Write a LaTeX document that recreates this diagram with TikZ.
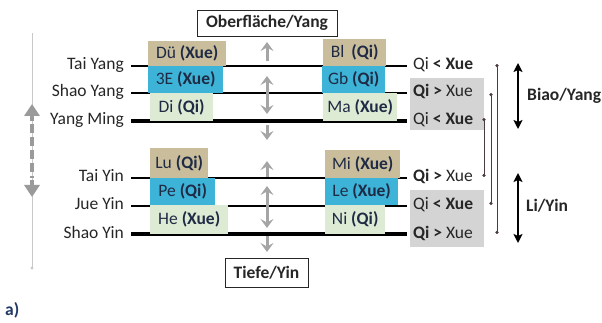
\documentclass[tikz,border=0pt]{standalone}
\usepackage{fontspec}
\setmainfont{Carlito}
\usetikzlibrary{arrows.meta}
\definecolor{tanc}{HTML}{C9BD9B}
\definecolor{cyanc}{HTML}{3DB3D8}
\definecolor{greenc}{HTML}{DDEBD4}
\definecolor{boxtxt}{HTML}{1F2B45}
\definecolor{txt}{HTML}{262626}
\definecolor{navy}{HTML}{1F3864}
\definecolor{greyfill}{HTML}{D4D4D4}
\definecolor{arrgrey}{HTML}{A5A5A5}
\definecolor{leftgrey}{HTML}{9A9A9A}
\definecolor{thingrey}{HTML}{C8C8C8}
\definecolor{brkc}{HTML}{4A3C3C}
\begin{document}
\begin{tikzpicture}[x=1pt,y=-1pt,font=\fontsize{17.5}{20}\selectfont,
  lbl/.style={anchor=east,inner sep=0pt,text=txt,text height=11pt,text depth=3pt},
  rl/.style={anchor=west,inner sep=0pt,text=txt,text height=11pt,text depth=3pt},
  bx/.style={anchor=north west,inner sep=0pt,text=boxtxt},
  titlebox/.style={draw=txt,line width=0.8pt,fill=white,inner sep=0pt,text=txt,font=\fontsize{17.5}{20}\selectfont\bfseries},
  thinline/.style={draw=black,line width=1.5pt},
  midline/.style={draw=black,line width=2.3pt},
  thickline/.style={draw=black,line width=3.6pt},
  garrow/.style={draw=arrgrey,line width=3pt,-{Stealth[length=9pt,width=13pt,inset=3.5pt]}},
  gdarrow/.style={draw=arrgrey,line width=3pt,{Stealth[length=9pt,width=13pt,inset=3.5pt]}-{Stealth[length=9pt,width=13pt,inset=3.5pt]}},
  brk/.style={draw=brkc,line width=0.9pt,{Circle[length=3.2pt]}-{Circle[length=3.2pt]}},
  bigarrow/.style={draw=black,line width=1.6pt,{Stealth[length=9pt,width=9pt,inset=2pt]}-{Stealth[length=9pt,width=9pt,inset=2pt]}}
]
\useasboundingbox (0,0) rectangle (602,323);

% left labels
\node[lbl] (ty)  at (124,66)  {Tai Yang};
\node[lbl] (sya) at (124,93)  {Shao Yang};
\node[lbl] (ym)  at (124,121) {Yang Ming};
\node[lbl] (tyi) at (124,178) {Tai Yin};
\node[lbl] (jy)  at (124,206) {Jue Yin};
\node[lbl] (syi) at (124,234) {Shao Yin};

% grey backgrounds
\fill[greyfill] (410,78) rectangle (484,130);
\fill[greyfill] (410,190) rectangle (484,247);

% right labels
\node[rl] (r1) at (413,66)  {Qi \textbf{< Xue}};
\node[rl] (r2) at (413,93)  {\textbf{Qi >} Xue};
\node[rl] (r3) at (413,121) {Qi \textbf{< Xue}};
\node[rl] (r4) at (413,178) {\textbf{Qi >} Xue};
\node[rl] (r5) at (413,206) {Qi \textbf{< Xue}};
\node[rl] (r6) at (413,234) {\textbf{Qi >} Xue};

% horizontal lines
\draw[thinline]  (ty.east)  ++(7,0) -- (407,66);
\draw[midline]   (sya.east) ++(7,0) -- (407,93);
\draw[thickline] (ym.east)  ++(7,0) -- (407,121);
\draw[thinline]  (tyi.east) ++(7,0) -- (407,178);
\draw[midline]   (jy.east)  ++(7,0) -- (407,206);
\draw[thickline] (syi.east) ++(7,0) -- (407,234);

% meridian boxes
\node[bx,fill=tanc,  minimum width=78pt,minimum height=25pt] (du) at (148,41)  {Dü \textbf{(Xue)}};
\node[bx,fill=cyanc, minimum width=75pt,minimum height=27pt] (se) at (148,66)  {3E \textbf{(Xue)}};
\node[bx,fill=greenc,minimum width=63pt,minimum height=28pt] (di) at (150,93)  {Di \textbf{(Qi)}};
\node[bx,fill=tanc,  minimum width=63pt,minimum height=27pt] (bl) at (323,39)  {Bl\, \textbf{(Qi)}};
\node[bx,fill=cyanc, minimum width=63pt,minimum height=27pt] (gb) at (322,66)  {Gb \textbf{(Qi)}};
\node[bx,fill=greenc,minimum width=74pt,minimum height=28pt] (ma) at (323,93)  {Ma \textbf{(Xue)}};
\node[bx,fill=tanc,  minimum width=58pt,minimum height=30pt] (lu) at (150,148) {Lu \textbf{(Qi)}};
\node[bx,fill=cyanc, minimum width=65pt,minimum height=27pt] (pe) at (150,178) {Pe \textbf{(Qi)}};
\node[bx,fill=greenc,minimum width=78pt,minimum height=29pt] (he) at (150,205) {He \textbf{(Xue)}};
\node[bx,fill=tanc,  minimum width=75pt,minimum height=28pt] (mi) at (325,150) {Mi \textbf{(Xue)}};
\node[bx,fill=cyanc, minimum width=73pt,minimum height=27pt] (le) at (325,178) {Le \textbf{(Xue)}};
\node[bx,fill=greenc,minimum width=60pt,minimum height=29pt] (ni) at (325,205) {Ni \textbf{(Qi)}};

% title boxes
\node[titlebox,minimum width=140pt,minimum height=26pt] (ober) at (267,23) {Oberfläche/Yang};
\node[titlebox,minimum width=83pt,minimum height=29pt] (tiefe) at (266.5,272.5) {Tiefe/Yin};

% central grey arrows
\coordinate (c1a) at (267,61);  \coordinate (c1b) at (267,42);
\coordinate (c2a) at (267,76);  \coordinate (c2b) at (267,114);
\coordinate (c3a) at (267,125); \coordinate (c3b) at (267,140);
\coordinate (c4a) at (267,177); \coordinate (c4b) at (267,161);
\coordinate (c5a) at (267,186); \coordinate (c5b) at (267,228);
\coordinate (c6a) at (267,236); \coordinate (c6b) at (267,252);
\draw[garrow]  (c1a) -- (c1b);
\draw[gdarrow] (c2a) -- (c2b);
\draw[garrow]  (c3a) -- (c3b);
\draw[garrow]  (c4a) -- (c4b);
\draw[gdarrow] (c5a) -- (c5b);
\draw[garrow]  (c6a) -- (c6b);

% right brackets
\coordinate (b1t) at (497,64);  \coordinate (b1b) at (497,234);
\coordinate (b2t) at (491,93);  \coordinate (b2b) at (491,205);
\coordinate (b3t) at (484,118); \coordinate (b3b) at (484,177);
\draw[brk] (b1t) -- (b1b);
\draw[brk] (b2t) -- (b2b);
\draw[brk] (b3t) -- (b3b);

% Biao / Li
\node[anchor=west,inner sep=0pt,text=txt,font=\fontsize{17.5}{20}\selectfont\bfseries] (biao) at (527,96) {Biao/Yang};
\node[anchor=west,inner sep=0pt,text=txt,font=\fontsize{17.5}{20}\selectfont\bfseries] (li) at (526,206) {Li/Yin};
\coordinate (ba) at (518,63);  \coordinate (bb) at (518,129);
\coordinate (la) at (518,173); \coordinate (lb) at (518,243);
\draw[bigarrow] (ba) -- (bb);
\draw[bigarrow] (la) -- (lb);

% left vertical arrow
\coordinate (vt) at (32,33); \coordinate (vb) at (32,268);
\draw[thingrey,line width=1pt] (vt) -- (vb);
\fill[thingrey] (vb) circle (1.6pt);
\coordinate (lu1) at (32,121); \coordinate (lu2) at (32,104);
\coordinate (ld1) at (32,180); \coordinate (ld2) at (32,197);
\draw[leftgrey,line width=4.5pt,dash pattern=on 9pt off 4pt] (32,124) -- (32,178);
\draw[leftgrey,line width=4.5pt,-{Triangle[length=12pt,width=15pt]}] (lu1) -- (lu2);
\draw[leftgrey,line width=4.5pt,-{Triangle[length=12pt,width=15pt]}] (ld1) -- (ld2);

% panel label
\node[anchor=west,inner sep=0pt,text=navy,font=\fontsize{17.5}{20}\selectfont\bfseries] (pa) at (5,310) {a)};
\end{tikzpicture}
\end{document}
